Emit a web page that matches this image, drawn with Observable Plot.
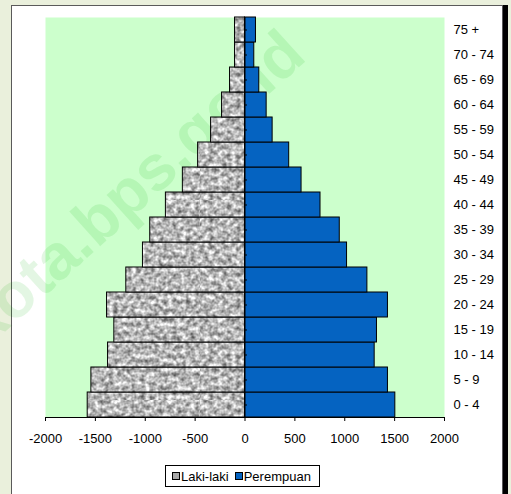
<!DOCTYPE html>
<html>
<head>
<meta charset="utf-8">
<script src="https://cdn.jsdelivr.net/npm/d3@7"></script>
<script src="https://cdn.jsdelivr.net/npm/@observablehq/plot@0.6"></script>
<style>
  html, body { margin: 0; padding: 0; }
  body { width: 511px; height: 494px; background: #EAF0DC; position: relative; overflow: hidden;
         font-family: "Liberation Sans", Arial, sans-serif; }
  #box { position: absolute; left: 11px; top: 5px; width: 492px; height: 520px; background: #fff;
         border: 1.5px solid #5a5a5a; box-shadow: 5px 0 0 #000; box-sizing: border-box; }
  #chart { position: absolute; left: 0; top: 0; }
  #legend { position: absolute; left: 165px; top: 465px; width: 155px; height: 22px; box-sizing: border-box;
            border: 1px solid #000; background: #fff; display: flex; align-items: center;
            font-size: 13px; color: #000; padding-left: 6px; }
  .sw { display: inline-block; width: 6px; height: 6px; border: 1px solid #000; margin-right: 1px; }
</style>
</head>
<body>
<div id="box"></div>
<div id="chart"></div>
<div id="legend">
  <span class="sw" style="background:#a8a8a8"></span><span>Laki-laki</span>
  <span class="sw" style="background:#0563C1;margin-left:6px"></span><span>Perempuan</span>
</div>
<script>
const ages = ["0 - 4","5 - 9","10 - 14","15 - 19","20 - 24","25 - 29","30 - 34","35 - 39",
              "40 - 44","45 - 49","50 - 54","55 - 59","60 - 64","65 - 69","70 - 74","75 +"];
const male   = [1577, 1540, 1373, 1310, 1383, 1190, 1023, 950, 793, 623, 470, 340, 230, 150, 100, 100];
const female = [1507, 1433, 1300, 1323, 1433, 1227, 1023, 950, 757, 567, 443, 277, 217, 143, 93, 110];
const xTicks = [-2000, -1500, -1000, -500, 0, 500, 1000, 1500, 2000];
const watermark = "kota.bps.go.id";

const rows = ages.map((a, i) => ({age: a, male: male[i], female: female[i]}));

const svg = Plot.plot({
  width: 511,
  height: 460,
  marginLeft: 45,
  marginRight: 67,
  marginTop: 17,
  marginBottom: 43,
  style: {background: "transparent", fontFamily: "'Liberation Sans', Arial, sans-serif", fontSize: "13px", color: "#000"},
  x: {domain: [-2000, 2000]},
  y: {domain: ages.slice().reverse(), padding: 0},
  marks: [
    Plot.frame({fill: "#CCFFCC", stroke: "none"}),
    Plot.barX(rows, {y: "age", x1: 0, x2: d => -d.male, fill: "url(#granite)", stroke: "#000", strokeWidth: 1}),
    Plot.barX(rows, {y: "age", x1: 0, x2: "female", fill: "#0563C1", stroke: "#000", strokeWidth: 1}),
    Plot.ruleX([0], {stroke: "#000", strokeWidth: 1}),
    Plot.ruleY(ages, {y: d => d, x1: 0, x2: 25, stroke: "#000", strokeWidth: 1}),
    Plot.frame({anchor: "bottom", stroke: "#000"}),
    Plot.axisX({ticks: xTicks, tickSize: 4, tickPadding: 12, tickFormat: d => String(d), label: null}),
    Plot.axisY({anchor: "right", tickSize: 0, tickPadding: 9, label: null})
  ]
});

d3.select(svg).insert("defs", ":first-child").html(`
  <filter id="granf" x="0" y="0" width="1" height="1" color-interpolation-filters="sRGB">
    <feTurbulence type="fractalNoise" baseFrequency="0.22" numOctaves="2" seed="11"/>
    <feColorMatrix type="matrix" values="1.0 0 0 0 0.22  1.0 0 0 0 0.22  1.0 0 0 0 0.22  0 0 0 0 1"/>
  </filter>
  <pattern id="granite" patternUnits="userSpaceOnUse" width="200" height="200">
    <rect width="200" height="200" filter="url(#granf)"/>
  </pattern>
`);

// watermark, drawn under the bars
const frameEl = svg.querySelector('[aria-label="frame"]');
const ns = "http://www.w3.org/2000/svg";
const wm = document.createElementNS(ns, "text");
wm.setAttribute("x", -14);
wm.setAttribute("y", 349);
wm.setAttribute("text-anchor", "start");
wm.setAttribute("transform", "rotate(-42 -14 349)");
wm.setAttribute("font-family", "Liberation Sans, Arial, sans-serif");
wm.setAttribute("font-weight", "bold");
wm.setAttribute("font-size", "64");
wm.setAttribute("fill", "rgba(0,170,0,0.11)");
wm.textContent = watermark;
frameEl.after(wm);

document.getElementById("chart").appendChild(svg);
</script>
</body>
</html>
